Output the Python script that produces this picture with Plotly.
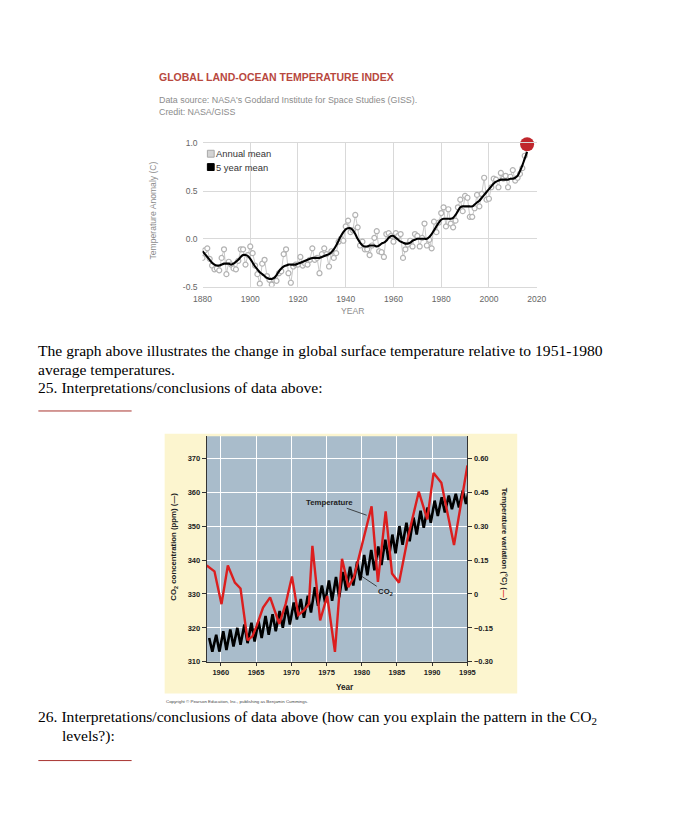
import plotly.graph_objects as go

# browser page keeps an 8px body margin, so the figure is drawn 8px in from the window edge
OFF = 8
W, H = 679 - 2 * OFF, 819 - 2 * OFF
def px(x): return (x - OFF) / W
def py(y): return 1 - (y - OFF) / H

# ---------------- Chart 1 data: GISS land-ocean temperature index ----------------
giss_years = list(range(1880, 2017))
giss_annual = [
    -0.20, -0.12, -0.10, -0.21, -0.28, -0.32, -0.31, -0.33, -0.20, -0.11,
    -0.37, -0.24, -0.27, -0.31, -0.32, -0.23, -0.11, -0.11, -0.27, -0.17,
    -0.08, -0.15, -0.28, -0.37, -0.47, -0.26, -0.22, -0.39, -0.43, -0.48,
    -0.43, -0.44, -0.36, -0.34, -0.16, -0.11, -0.36, -0.46, -0.29, -0.27,
    -0.27, -0.19, -0.28, -0.26, -0.27, -0.22, -0.10, -0.22, -0.20, -0.36,
    -0.16, -0.10, -0.16, -0.29, -0.13, -0.20, -0.15, -0.03, -0.00, -0.02,
    0.13, 0.19, 0.07, 0.09, 0.25, 0.12, -0.07, -0.03, -0.11, -0.11,
    -0.17, -0.07, 0.01, 0.08, -0.13, -0.14, -0.19, 0.05, 0.06, 0.03,
    -0.03, 0.06, 0.03, 0.05, -0.20, -0.11, -0.06, -0.02, -0.08, 0.05,
    0.03, -0.08, 0.01, 0.16, -0.07, -0.01, -0.10, 0.18, 0.07, 0.17,
    0.27, 0.33, 0.13, 0.31, 0.16, 0.12, 0.19, 0.33, 0.41, 0.29,
    0.45, 0.43, 0.23, 0.23, 0.32, 0.46, 0.34, 0.47, 0.64, 0.41,
    0.42, 0.54, 0.63, 0.62, 0.54, 0.69, 0.63, 0.66, 0.54, 0.65,
    0.72, 0.61, 0.64, 0.68, 0.74, 0.87, 0.99,
]
giss_smooth = [
    -0.13, -0.16, -0.19, -0.22, -0.25, -0.27, -0.28, -0.28, -0.27, -0.26,
    -0.26, -0.26, -0.27, -0.26, -0.24, -0.22, -0.19, -0.17, -0.17, -0.18,
    -0.21, -0.25, -0.29, -0.32, -0.35, -0.37, -0.39, -0.41, -0.42, -0.42,
    -0.41, -0.38, -0.34, -0.31, -0.29, -0.28, -0.27, -0.27, -0.27, -0.27,
    -0.26, -0.25, -0.24, -0.23, -0.22, -0.21, -0.20, -0.20, -0.20, -0.20,
    -0.19, -0.18, -0.17, -0.16, -0.14, -0.11, -0.07, -0.02, 0.03, 0.07,
    0.10, 0.11, 0.11, 0.09, 0.05, 0.00, -0.04, -0.07, -0.08, -0.08,
    -0.07, -0.07, -0.07, -0.08, -0.07, -0.05, -0.04, -0.02, 0.01, 0.03,
    0.03, 0.01, -0.01, -0.03, -0.04, -0.05, -0.05, -0.04, -0.02, -0.01,
    0.00, 0.00, 0.00, 0.00, 0.00, 0.02, 0.05, 0.09, 0.13, 0.17,
    0.20, 0.21, 0.21, 0.21, 0.21, 0.22, 0.25, 0.29, 0.33, 0.34,
    0.34, 0.34, 0.34, 0.34, 0.36, 0.38, 0.40, 0.43, 0.46, 0.49,
    0.52, 0.55, 0.58, 0.60, 0.61, 0.62, 0.62, 0.62, 0.62, 0.63,
    0.63, 0.64, 0.66, 0.71, 0.77, 0.84, 0.91,
]
latest_year = [2016]
latest_value = [0.99]

# ---------------- Chart 2 data: CO2 and temperature 1958-1995 ----------------
co2_years = list(range(1958, 1996))
co2_peaks = [
    317, 318, 319, 319.5, 320, 321, 321.5, 322, 323.5, 324,
    325, 326.5, 327.5, 328.5, 329.5, 332, 332.5, 334, 335, 336.5,
    338, 339.5, 341.5, 343, 344, 346, 347.5, 350, 351, 352.5,
    354.5, 355.5, 357.5, 358.5, 359, 359.5, 360.5, 362,
]
co2_troughs = [
    313, 313, 313.5, 314.5, 315, 315.5, 316, 317, 318, 319,
    320, 321, 322.5, 323, 324.5, 326.5, 327.5, 328, 329, 331,
    332.5, 334, 335.5, 337, 338.5, 340, 342, 344.5, 345.5, 347.5,
    349.5, 351, 353, 354, 355, 355.5, 356.5, 357.5,
]
temp_years = [
    1958.0, 1959.1, 1960.1, 1961.0, 1962.0, 1962.8, 1963.8, 1964.5, 1965.1, 1966.0,
    1967.0, 1968.3, 1969.2, 1970.1, 1971.0, 1971.8, 1972.5, 1973.0, 1974.1, 1975.1,
    1976.2, 1977.2, 1977.8, 1978.1, 1978.9, 1979.9, 1981.4, 1982.3, 1983.4, 1984.3,
    1985.3, 1986.5, 1988.1, 1989.3, 1990.2, 1991.3, 1993.1, 1995.0,
]
temp_values = [
    0.126, 0.10, -0.045, 0.126, 0.05, 0.024, -0.205, -0.186, -0.14, -0.06,
    -0.015, -0.132, -0.045, 0.077, -0.093, -0.073, -0.045, 0.213, -0.117, -0.009,
    -0.256, 0.155, 0.075, 0.03, 0.075, 0.20, 0.387, 0.053, 0.365, 0.09,
    0.05, 0.242, 0.452, 0.33, 0.535, 0.491, 0.216, 0.568,
]
co2_ticks = [310, 320, 330, 340, 350, 360, 370]
temp_ticks = [-0.30, -0.15, 0, 0.15, 0.30, 0.45, 0.60]
temp_ticktext = ["\u22120.30", "\u22120.15", "0", "0.15", "0.30", "0.45", "0.60"]
year_ticks2 = [1960, 1965, 1970, 1975, 1980, 1985, 1990, 1995]

# zigzag sequence of CO2 from seasonal peaks/troughs
co2_x, co2_y = [], []
for yr, pk, tr in zip(co2_years, co2_peaks, co2_troughs):
    co2_x += [yr + 0.35, yr + 0.8]
    co2_y += [pk, tr]

SANS = "Arial, Liberation Sans, sans-serif"
SERIF = "Times New Roman, Liberation Serif, serif"

fig = go.Figure()

# Chart 1 traces
fig.add_trace(go.Scatter(
    x=giss_years, y=giss_annual, mode="lines+markers",
    line=dict(color="#c9c9c9", width=1),
    marker=dict(symbol="circle", size=5, color="white", line=dict(color="#b3b3b3", width=1.2)),
    xaxis="x", yaxis="y", showlegend=False, name="Annual mean"))
fig.add_trace(go.Scatter(
    x=giss_years, y=giss_smooth, mode="lines",
    line=dict(color="black", width=2.1, shape="spline"),
    xaxis="x", yaxis="y", showlegend=False, name="5 year mean"))
fig.add_trace(go.Scatter(
    x=latest_year, y=latest_value, mode="markers",
    marker=dict(size=14, color="#c0272d"), cliponaxis=False,
    xaxis="x", yaxis="y", showlegend=False))

# Chart 2 traces
fig.add_trace(go.Scatter(
    x=co2_x, y=co2_y, mode="lines", line=dict(color="black", width=2.6),
    xaxis="x2", yaxis="y2", showlegend=False, name="CO2"))
fig.add_trace(go.Scatter(
    x=temp_years, y=temp_values, mode="lines", line=dict(color="#dc1e1e", width=2.4),
    xaxis="x2", yaxis="y3", showlegend=False, name="Temperature"))

grid1 = "#d9d9d9"
tick1 = dict(size=8.5, color="#666", family=SANS)
tick2 = dict(size=7.5, color="#222", family=SANS, weight="bold")

fig.update_layout(
    width=W, height=H, autosize=False,
    margin=dict(l=0, r=0, t=0, b=0),
    paper_bgcolor="white", plot_bgcolor="rgba(0,0,0,0)",
    xaxis=dict(domain=[px(199), px(543)], range=[1880, 2020], anchor="y",
               tickvals=list(range(1880, 2021, 20)), showgrid=True, gridcolor=grid1,
               zeroline=False, showline=True, linecolor=grid1, mirror=True,
               ticks="", tickfont=tick1, ticklabelstandoff=4),
    yaxis=dict(domain=[py(285), py(140)], range=[-0.5, 1.0], anchor="x",
               tickvals=[-0.5, 0, 0.5, 1.0], ticktext=["-0.5", "0.0", "0.5", "1.0"],
               showgrid=True, gridcolor=grid1, zeroline=False, showline=False,
               ticks="", tickfont=tick1, ticklabelstandoff=4),
    xaxis2=dict(domain=[px(203.3), px(471.7)], range=[1958, 1995], anchor="y2",
                tickvals=year_ticks2, showgrid=True, gridcolor="white", gridwidth=1.3,
                zeroline=False, showline=True, linecolor="#333", linewidth=1,
                ticks="outside", ticklen=3, tickcolor="#333", tickfont=tick2),
    yaxis2=dict(domain=[py(665), py(436.5)], range=[310, 376.5], anchor="x2",
                tickvals=co2_ticks, showgrid=True, gridcolor="white", gridwidth=1.3,
                zeroline=False, showline=True, linecolor="#333", linewidth=1,
                ticks="outside", ticklen=4, tickcolor="#333", tickfont=tick2),
    yaxis3=dict(overlaying="y2", side="right", anchor="x2", range=[-0.30, 0.6975],
                tickvals=temp_ticks, ticktext=temp_ticktext, showgrid=False,
                zeroline=False, showline=True, linecolor="#333", linewidth=1,
                ticks="outside", ticklen=4, tickcolor="#333", tickfont=tick2),
)

shapes = [
    # chart 2 pale yellow panel and blue-grey plot background
    dict(type="rect", xref="paper", yref="paper", x0=px(160), x1=px(523), y0=py(697), y1=py(434),
         fillcolor="#fcf5cf", line=dict(width=0), layer="below"),
    dict(type="rect", xref="x2 domain", yref="y2 domain", x0=0, x1=1, y0=0, y1=1,
         fillcolor="#a9bccb", line=dict(width=0), layer="below"),
    # legend keys of chart 1
    dict(type="rect", xref="paper", yref="paper", x0=px(204), x1=px(211), y0=py(154), y1=py(147),
         fillcolor="#d4d4d4", line=dict(color="#a8a8a8", width=1)),
    dict(type="rect", xref="paper", yref="paper", x0=px(204), x1=px(211), y0=py(167.5), y1=py(160.5),
         fillcolor="black", line=dict(color="black", width=1)),
    # answer lines
    dict(type="line", xref="paper", yref="paper", x0=px(30), x1=px(126), y0=py(411), y1=py(411),
         line=dict(color="#a8332f", width=1)),
    dict(type="line", xref="paper", yref="paper", x0=px(30), x1=px(126), y0=py(765), y1=py(765),
         line=dict(color="#a8332f", width=1)),
]
fig.update_layout(shapes=shapes)

def txt(x, y, text, size, color="black", family=SANS, xanchor="left", angle=0, weight="normal"):
    return dict(xref="paper", yref="paper", x=px(x), y=py(y), text=text, showarrow=False,
                xanchor=xanchor, yanchor="middle", textangle=angle, borderpad=0,
                font=dict(size=size, color=color, family=family, weight=weight))

SERIF_SIZE = 15.6
ann = [
    txt(153, 73, "GLOBAL LAND-OCEAN TEMPERATURE INDEX", 10.5, "#b8483e", weight="bold"),
    txt(153, 96, "Data source: NASA's Goddard Institute for Space Studies (GISS).", 8.9, "#8c8c8c"),
    txt(153, 108, "Credit: NASA/GISS", 8.9, "#8c8c8c"),
    txt(212, 150.5, "Annual mean", 9.4, "#333"),
    txt(212, 164.5, "5 year mean", 9.4, "#333"),
    txt(148, 208, "Temperature Anomaly (C)", 8.6, "#8c8c8c", xanchor="center", angle=-90),
    txt(353, 310, "YEAR", 8.6, "#8c8c8c", xanchor="center"),
    # worksheet text
    txt(29, 350, "The graph above illustrates the change in global surface temperature relative to 1951-1980",
        SERIF_SIZE, family=SERIF),
    txt(29, 368.5, "average temperatures.", SERIF_SIZE, family=SERIF),
    txt(29, 387, "25. Interpretations/conclusions of data above:", SERIF_SIZE, family=SERIF),
    txt(29, 721, "26. Interpretations/conclusions of data above (how can you explain the pattern in the CO<sub>2</sub>",
        SERIF_SIZE, family=SERIF),
    txt(53, 740, "levels?):", SERIF_SIZE, family=SERIF),
    # chart 2 texts
    txt(170, 548, "CO<sub>2</sub> concentration (ppm) (\u2014)", 7.8, "#222", xanchor="center",
        angle=-90, weight="bold"),
    txt(510, 546, "Temperature variation (\u00b0C) (<span style='color:#dc1e1e'>\u2014</span>)", 7.8, "#222",
        xanchor="center", angle=90, weight="bold"),
    txt(346, 691, "Year", 8.2, "#222", xanchor="center", weight="bold"),
    txt(160, 705.5, "Copyright \u00a9 Pearson Education, Inc., publishing as Benjamin Cummings.", 4.4, "#444"),
    dict(xref="x2", yref="y2", x=1980.7, y=353.2, text="Temperature", showarrow=True,
         arrowhead=0, arrowwidth=0.8, arrowcolor="#222", ax=-37, ay=-13,
         font=dict(size=7.8, color="#222", family=SANS, weight="bold")),
    dict(xref="x2", yref="y2", x=1980.0, y=335.2, text="CO<sub>2</sub>", showarrow=True,
         arrowhead=0, arrowwidth=0.8, arrowcolor="#222", ax=24, ay=16,
         font=dict(size=7.8, color="#222", family=SANS, weight="bold")),
]
fig.update_layout(annotations=ann)

fig.write_html("out.html", config={"displayModeBar": False})
